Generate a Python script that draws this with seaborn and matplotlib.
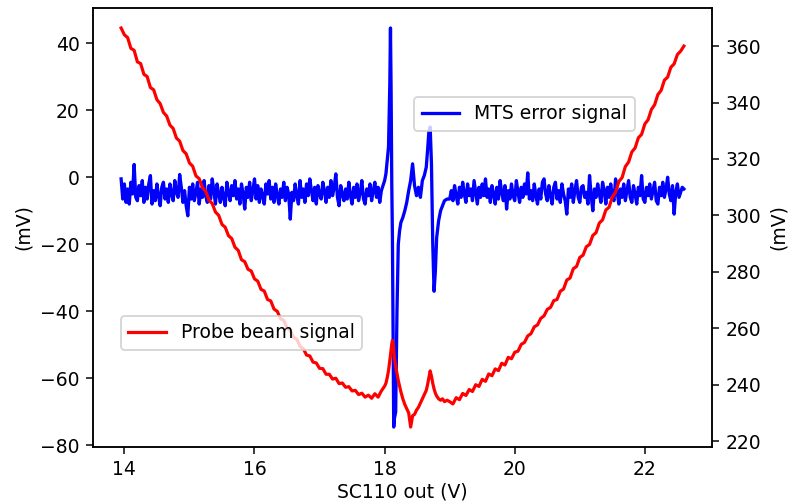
import pandas as pd
import matplotlib.pyplot as plt
import seaborn as sns

# MTS error signal (left axis)
mts_volts = [
    13.950, 13.975, 14.000, 14.025, 14.050, 14.075, 14.100, 14.125, 14.150, 14.175,
    14.200, 14.225, 14.250, 14.275, 14.300, 14.325, 14.350, 14.375, 14.400, 14.425,
    14.450, 14.475, 14.500, 14.525, 14.550, 14.575, 14.600, 14.625, 14.650, 14.675,
    14.700, 14.725, 14.750, 14.775, 14.800, 14.825, 14.850, 14.875, 14.900, 14.925,
    14.950, 14.975, 15.000, 15.025, 15.050, 15.075, 15.100, 15.125, 15.150, 15.175,
    15.200, 15.225, 15.250, 15.275, 15.300, 15.325, 15.350, 15.375, 15.400, 15.425,
    15.450, 15.475, 15.500, 15.525, 15.550, 15.575, 15.600, 15.625, 15.650, 15.675,
    15.700, 15.725, 15.750, 15.775, 15.800, 15.825, 15.850, 15.875, 15.900, 15.925,
    15.950, 15.975, 16.000, 16.025, 16.050, 16.075, 16.100, 16.125, 16.150, 16.175,
    16.200, 16.225, 16.250, 16.275, 16.300, 16.325, 16.350, 16.375, 16.400, 16.425,
    16.450, 16.475, 16.500, 16.525, 16.550, 16.575, 16.600, 16.625, 16.650, 16.675,
    16.700, 16.725, 16.750, 16.775, 16.800, 16.825, 16.850, 16.875, 16.900, 16.925,
    16.950, 16.975, 17.000, 17.025, 17.050, 17.075, 17.100, 17.125, 17.150, 17.175,
    17.200, 17.225, 17.250, 17.275, 17.300, 17.325, 17.350, 17.375, 17.400, 17.425,
    17.450, 17.475, 17.500, 17.525, 17.550, 17.575, 17.600, 17.625, 17.650, 17.675,
    17.700, 17.725, 17.750, 17.775, 17.800, 17.825, 17.850, 17.875, 17.900, 17.925,
    17.950, 17.975, 18.000,
    18.02, 18.04, 18.06, 18.08, 18.09, 18.10, 18.11, 18.12, 18.13, 18.14,
    18.15, 18.17, 18.19, 18.21, 18.23, 18.25, 18.28, 18.31, 18.34, 18.37,
    18.40, 18.43, 18.46, 18.49, 18.52, 18.55, 18.58, 18.61, 18.64, 18.66,
    18.68, 18.70, 18.72, 18.74, 18.76, 18.78, 18.80, 18.83, 18.86, 18.89,
    18.92, 18.96,
    19.000, 19.025, 19.050, 19.075, 19.100, 19.125, 19.150, 19.175, 19.200, 19.225,
    19.250, 19.275, 19.300, 19.325, 19.350, 19.375, 19.400, 19.425, 19.450, 19.475,
    19.500, 19.525, 19.550, 19.575, 19.600, 19.625, 19.650, 19.675, 19.700, 19.725,
    19.750, 19.775, 19.800, 19.825, 19.850, 19.875, 19.900, 19.925, 19.950, 19.975,
    20.000, 20.025, 20.050, 20.075, 20.100, 20.125, 20.150, 20.175, 20.200, 20.225,
    20.250, 20.275, 20.300, 20.325, 20.350, 20.375, 20.400, 20.425, 20.450, 20.475,
    20.500, 20.525, 20.550, 20.575, 20.600, 20.625, 20.650, 20.675, 20.700, 20.725,
    20.750, 20.775, 20.800, 20.825, 20.850, 20.875, 20.900, 20.925, 20.950, 20.975,
    21.000, 21.025, 21.050, 21.075, 21.100, 21.125, 21.150, 21.175, 21.200, 21.225,
    21.250, 21.275, 21.300, 21.325, 21.350, 21.375, 21.400, 21.425, 21.450, 21.475,
    21.500, 21.525, 21.550, 21.575, 21.600, 21.625, 21.650, 21.675, 21.700, 21.725,
    21.750, 21.775, 21.800, 21.825, 21.850, 21.875, 21.900, 21.925, 21.950, 21.975,
    22.000, 22.025, 22.050, 22.075, 22.100, 22.125, 22.150, 22.175, 22.200, 22.225,
    22.250, 22.275, 22.300, 22.325, 22.350, 22.375, 22.400, 22.425, 22.450, 22.475,
    22.500, 22.525, 22.550, 22.575, 22.600,
]

mts_error = [
    -0.5, -6.5, -2.0, -7.5, -3.5, -8.0, -1.5, -5.0, 3.8, -6.0,
    -7.0, -2.5, -5.5, -1.0, -7.5, -3.0, -6.5, -2.0, 0.5, -8.0,
    -4.0, -7.0, -2.0, -5.5, -8.5, -3.0, -1.5, -6.5, -3.5, -7.5,
    -2.0, -5.0, -7.0, -1.0, -4.5, -6.0, 0.8, -3.0, -7.5, -4.0,
    -8.5, -11.5, -3.0, -6.5, -2.0, -7.0, -4.5, -1.5, -8.0, -3.5,
    -6.0, -1.0, -5.5, -7.5, -2.5, -6.5, -0.5, -4.0, -8.0, -2.0,
    -5.0, -7.5, -3.0, -6.0, -8.5, -1.5, -4.5, -7.0, -2.5, -5.5,
    -1.0, -6.5, -3.5, -8.0, -2.0, -5.0, -9.5, -3.0, -6.0, -1.5,
    -7.0, -4.0, -0.5, -6.5, -2.5, -7.5, -3.5, -5.5, -8.0, -2.0,
    -5.0, -1.0, -6.5, -3.0, -7.5, -2.0, -5.5, -8.0, -3.5, -6.0,
    -1.5, -7.0, -3.0, -5.0, -12.5, -4.5, -7.0, -2.0, -5.5, -8.0,
    -1.0, -6.0, -3.5, -7.5, -2.0, -5.5, -0.5, -4.0, -7.0, -3.0,
    -8.0, -2.5, -5.0, -6.5, -1.5, -4.0, -7.5, -3.0, -6.0, -1.0,
    -5.5, -3.0, 1.0, -6.0, -8.5, -2.5, -5.0, -7.0, -3.5, -6.5,
    -1.5, -5.5, -8.0, -3.0, -6.0, -2.0, -7.0, -4.5, -1.0, -6.5,
    -8.0, -3.5, -5.5, -2.0, -7.0, -4.0, -1.5, -6.0, -3.0, -7.5,
    -4.0, -2.5, -1.0,
    1.0, 5.0, 9.0, 28.0, 44.5, 25.0, -2.0, -18.0, -45.0, -74.5,
    -72.0, -70.0, -40.0, -20.0, -16.0, -13.5, -12.0, -10.0, -7.5, -4.0,
    -1.0, 4.0, -2.5, -5.5, -3.0, -6.0, -1.0, 0.5, 3.0, 8.0,
    13.5, 15.0, 4.0, -20.0, -34.0, -28.0, -18.0, -13.0, -10.0, -8.5,
    -7.0, -6.5,
    -6.5, -4.0, -7.0, -2.5, -5.5, -8.0, -3.0, -6.0, -1.5, -5.0,
    -7.5, -2.0, -5.5, -3.5, -7.0, -1.0, -4.5, -8.0, -3.0, -6.0,
    -2.0, -5.5, -0.5, -6.0, -3.5, -7.5, -2.5, -5.0, -8.0, -3.0,
    -6.5, -1.0, -4.5, -7.0, -2.5, -9.5, -4.0, -6.5, -2.0, -5.5,
    -7.0, -1.0, -4.5, -7.5, -3.0, -6.0, -2.0, -5.0, 1.3, -6.5,
    -4.0, -7.0, -2.0, -5.5, -8.0, -3.5, -6.5, -1.5, -0.5, -5.0,
    -7.0, -2.5, -5.5, -8.0, -3.0, -1.5, -6.5, -4.0, -7.5, -2.0,
    -5.0, -7.0, -11.0, -3.5, -6.0, -2.0, -7.5, -4.0, -1.0, -6.0,
    -7.5, -3.0, -2.5, -6.0, -4.5, -8.0, 0.5, -5.5, -10.0, -3.5,
    -6.0, -2.0, -5.0, -7.5, -1.5, -4.0, -8.0, -3.0, -6.0, -2.0,
    -5.5, -7.0, -0.5, -4.5, -8.0, -3.5, -6.0, -2.0, -7.0, -4.0,
    -1.0, -6.0, -7.5, -2.5, -5.0, -8.0, -3.0, -5.5, 0.5, -6.5,
    -7.5, -3.0, -5.5, -2.0, -6.5, -4.0, -1.5, -7.0, -8.0, -3.0,
    -5.5, -1.5, -6.0, -3.5, 0.0, -5.0, -7.0, -2.5, -11.0, -4.5,
    -2.0, -6.0, -4.5, -3.0, -3.5,
]

# probe beam signal (right axis)
probe_volts = [
    13.95, 14.00, 14.05, 14.10, 14.15, 14.20, 14.25, 14.30, 14.35, 14.40,
    14.45, 14.50, 14.55, 14.60, 14.65, 14.70, 14.75, 14.80, 14.85, 14.90,
    14.95, 15.00, 15.05, 15.10, 15.15, 15.20, 15.25, 15.30, 15.35, 15.40,
    15.45, 15.50, 15.55, 15.60, 15.65, 15.70, 15.75, 15.80, 15.85, 15.90,
    15.95, 16.00, 16.05, 16.10, 16.15, 16.20, 16.25, 16.30, 16.35, 16.40,
    16.45, 16.50, 16.55, 16.60, 16.65, 16.70, 16.75, 16.80, 16.85, 16.90,
    16.95, 17.00, 17.05, 17.10, 17.15, 17.20, 17.25, 17.30, 17.35, 17.40,
    17.45, 17.50, 17.55, 17.60, 17.65, 17.70, 17.75, 17.80, 17.85, 17.90,
    17.95, 18.00,
    18.02, 18.04, 18.06, 18.08, 18.09, 18.10, 18.11, 18.12, 18.13, 18.14,
    18.15, 18.17, 18.19, 18.21, 18.23, 18.25, 18.28, 18.31, 18.34, 18.37,
    18.40, 18.43, 18.46, 18.49, 18.52, 18.55, 18.58, 18.61, 18.64, 18.66,
    18.68, 18.70, 18.72, 18.74, 18.76, 18.78, 18.80, 18.83, 18.86, 18.89,
    18.92, 18.96,
    19.00, 19.05, 19.10, 19.15, 19.20, 19.25, 19.30, 19.35, 19.40, 19.45,
    19.50, 19.55, 19.60, 19.65, 19.70, 19.75, 19.80, 19.85, 19.90, 19.95,
    20.00, 20.05, 20.10, 20.15, 20.20, 20.25, 20.30, 20.35, 20.40, 20.45,
    20.50, 20.55, 20.60, 20.65, 20.70, 20.75, 20.80, 20.85, 20.90, 20.95,
    21.00, 21.05, 21.10, 21.15, 21.20, 21.25, 21.30, 21.35, 21.40, 21.45,
    21.50, 21.55, 21.60, 21.65, 21.70, 21.75, 21.80, 21.85, 21.90, 21.95,
    22.00, 22.05, 22.10, 22.15, 22.20, 22.25, 22.30, 22.35, 22.40, 22.45,
    22.50, 22.55, 22.60,
]

probe_beam = [
    366.4, 364.0, 363.0, 359.2, 358.5, 354.4, 353.8, 350.0, 349.2, 345.3,
    344.5, 341.0, 339.6, 336.5, 335.2, 332.0, 330.8, 327.4, 326.3, 323.0,
    321.8, 318.6, 317.4, 314.0, 313.0, 309.8, 308.6, 305.4, 304.2, 301.2,
    300.0, 296.8, 295.8, 292.8, 291.8, 288.7, 287.6, 284.3, 283.6, 280.9,
    280.3, 277.5, 276.7, 273.8, 273.2, 270.2, 269.7, 266.8, 266.0, 263.4,
    262.8, 260.1, 259.3, 256.8, 256.1, 253.6, 252.8, 250.5, 250.2, 248.0,
    247.7, 245.8, 245.7, 243.7, 243.7, 242.0, 242.3, 240.4, 240.6, 239.1,
    239.3, 237.8, 238.0, 236.5, 237.0, 235.6, 236.3, 235.2, 236.8, 235.6,
    237.8, 239.5,
    240.5, 242.5, 245.0, 248.5, 250.5, 252.5, 254.5, 255.7, 255.0, 252.0,
    249.5, 246.5, 244.0, 241.5, 239.5, 237.5, 235.0, 233.0, 231.5, 230.0,
    225.0, 229.0, 229.5, 231.0, 232.0, 233.5, 235.0, 236.5, 238.0, 240.0,
    242.5, 244.9, 243.0, 240.5, 238.5, 237.0, 236.0, 235.0, 234.5, 235.0,
    234.0, 234.5,
    234.0, 233.2, 235.4, 234.7, 236.9, 236.2, 238.3, 237.6, 240.0, 239.4,
    241.9, 241.2, 243.8, 243.2, 245.6, 245.0, 247.6, 247.0, 249.7, 249.2,
    251.5, 251.9, 254.3, 255.0, 257.3, 258.1, 260.5, 261.2, 263.5, 264.4,
    266.7, 267.4, 269.8, 270.2, 273.1, 273.9, 277.1, 277.8, 281.1, 281.9,
    285.1, 285.9, 288.9, 289.7, 292.9, 293.9, 297.3, 298.4, 301.9, 302.9,
    306.5, 308.2, 312.0, 313.4, 317.3, 318.9, 322.5, 323.9, 327.5, 328.7,
    332.4, 333.9, 337.5, 339.2, 342.8, 344.3, 347.9, 349.0, 352.5, 353.7,
    357.0, 358.2, 360.0,
]

mts = pd.DataFrame({'SC110': mts_volts, 'signal': mts_error})
probe = pd.DataFrame({'SC110': probe_volts, 'signal': probe_beam})

fig, ax = plt.subplots(figsize=(788 / 135, 504 / 135), dpi=135)
fig.subplots_adjust(left=0.118, right=0.9036, top=0.984, bottom=0.1131)

sns.lineplot(data=mts, x='SC110', y='signal', color='b', lw=1.75,
             label='MTS error signal', ax=ax)
ax.set_xlabel('SC110 out (V)', labelpad=2)
ax.set_ylabel('(mV)')
ax.legend(loc='center', bbox_to_anchor=(0.697, 0.759))

ax2 = ax.twinx()
sns.lineplot(data=probe, x='SC110', y='signal', color='r', lw=1.7,
             label='Probe beam signal', ax=ax2)
ax2.set_ylabel('(mV)')
ax2.legend(loc='center', bbox_to_anchor=(0.240, 0.260))

fig.savefig('out.png', dpi=135)
